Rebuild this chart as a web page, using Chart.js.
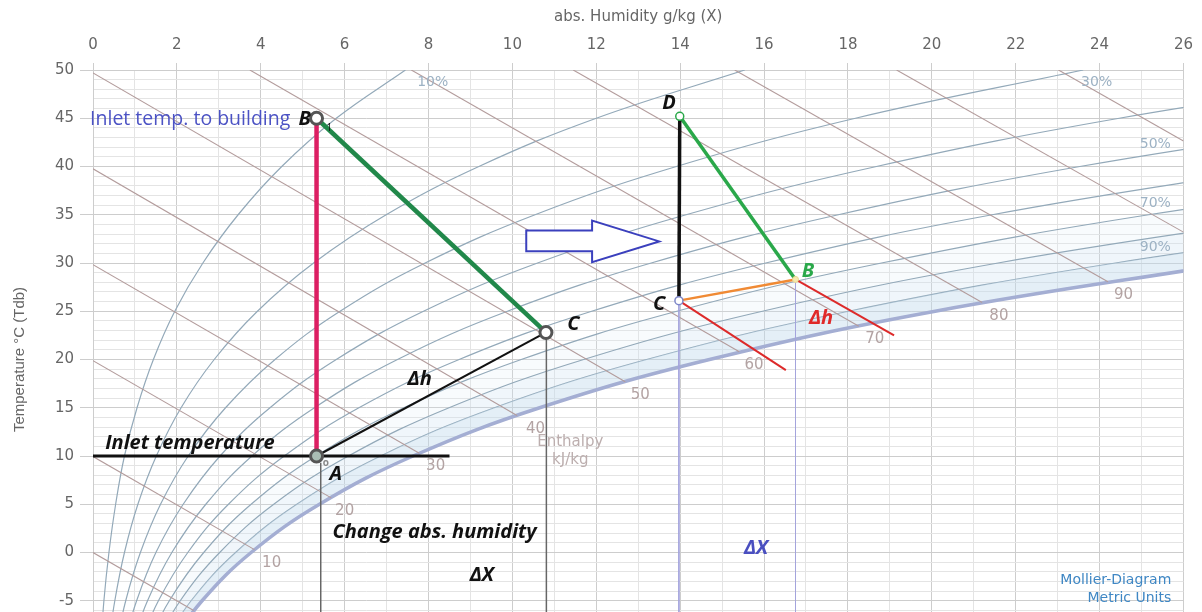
<!DOCTYPE html>
<html>
<head>
<meta charset="utf-8">
<script src="https://cdn.jsdelivr.net/npm/chart.js@4.4.0/dist/chart.umd.min.js"></script>
<style>
  html, body { margin: 0; padding: 0; background: #fff; overflow: hidden; }
  #wrap { width: 1202px; height: 612px; overflow: hidden; }
</style>
</head>
<body>
<div id="wrap"><canvas id="mollier" width="1202" height="664"></canvas></div>
<script>
// Mollier h-x diagram, temperature vs abs. humidity

// dry bulb temperatures (°C) where the humidity curves are read
const curveTemps = [-10, -5, 0, 5, 10, 15, 20, 25, 30, 35, 40, 45, 50];
// abs. humidity (g/kg) along each relative humidity curve
const rh10 = [0.18, 0.26, 0.38, 0.54, 0.75, 1.05, 1.44, 1.95, 2.62, 3.46, 4.50, 5.80, 7.45];
const rh20 = [0.35, 0.52, 0.75, 1.07, 1.51, 2.10, 2.89, 3.92, 5.26, 6.99, 9.20, 12.00, 15.54];
const rh30 = [0.53, 0.78, 1.13, 1.61, 2.27, 3.16, 4.34, 5.89, 7.92, 10.54, 13.91, 18.18, 23.61];
const rh40 = [0.70, 1.04, 1.50, 2.15, 3.03, 4.22, 5.80, 7.88, 10.60, 14.14, 18.68, 24.47, 31.88];
const rh50 = [0.88, 1.30, 1.88, 2.69, 3.79, 5.28, 7.26, 9.88, 13.31, 17.77, 23.53, 30.90];
const rh60 = [1.06, 1.56, 2.26, 3.23, 4.56, 6.34, 8.73, 11.89, 16.04, 21.44, 28.45];
const rh70 = [1.23, 1.82, 2.64, 3.77, 5.32, 7.41, 10.21, 13.92, 18.80, 25.17, 33.44];
const rh80 = [1.41, 2.08, 3.02, 4.31, 6.09, 8.49, 11.70, 15.96, 21.58, 28.93];
const rh90 = [1.59, 2.34, 3.40, 4.86, 6.86, 9.57, 13.20, 18.02, 24.38, 32.73];
const rh100 = [1.76, 2.60, 3.77, 5.40, 7.63, 10.65, 14.70, 20.08, 27.20];

// enthalpy lines (kJ/kg): start point and end point [x g/kg, T °C]
const enthalpyValues = [0, 10, 20, 30, 40, 50, 60, 70, 80, 90, 100, 110];
const enthalpyStart = [[0, 0], [0, 9.94], [0, 19.88], [0, 29.82], [0, 39.76], [0, 49.7],
  [3.74, 50], [7.59, 50], [11.45, 50], [15.3, 50], [19.16, 50], [23.02, 50]];
const enthalpyEnd = [[2.4, -6.0], [3.85, 0.3], [5.68, 5.66], [7.78, 10.28], [10.11, 14.2], [12.69, 17.7],
  [15.41, 20.8], [18.26, 23.45], [21.2, 25.9], [24.2, 28.05], [26, 33.2], [26, 42.65]];

// air states of the two processes
const stateA = { x: 5.33, y: 10 };
const stateB = { x: 5.33, y: 45 };
const stateC = { x: 10.8, y: 22.8 };
const stateD = { x: 13.99, y: 45.2 };
const stateC2 = { x: 13.97, y: 26.1 };
const stateB2 = { x: 16.75, y: 28.3 };

function curve(values) {
  return values.map((v, i) => ({ x: v, y: curveTemps[i] }));
}

// datasets with a higher order are painted first (underneath)
function line(points, color, width, order, extra) {
  return Object.assign({
    data: points,
    showLine: true,
    borderColor: color,
    borderWidth: width,
    pointRadius: 0,
    fill: false,
    order: order
  }, extra || {});
}

const rhCurves = [rh10, rh20, rh30, rh40, rh50, rh60, rh70, rh80, rh90, rh100];
const datasets = rhCurves.map(vals => line(curve(vals), '#93a9b9', 1.2, 30, { tension: 0.4 }));
// saturation curve and the shaded band under it
datasets[9].borderColor = '#a4aed3';
datasets[9].borderWidth = 3.5;
datasets[9].order = 25;
datasets[9].fill = 8;
datasets[9].backgroundColor = 'rgba(196,220,238,0.45)';
datasets[8].fill = 7;
datasets[8].backgroundColor = 'rgba(205,226,241,0.3)';
datasets[7].fill = 6;
datasets[7].backgroundColor = 'rgba(215,232,244,0.18)';

enthalpyValues.forEach((h, i) => {
  datasets.push(line([
    { x: enthalpyStart[i][0], y: enthalpyStart[i][1] },
    { x: enthalpyEnd[i][0], y: enthalpyEnd[i][1] }
  ], '#b39c9c', 1.1, 20));
});

// process lines
datasets.push(line([{ x: 5.43, y: 9.3 }, { x: 5.43, y: -10 }], '#666', 1.5, 10));
datasets.push(line([{ x: 10.81, y: 22.3 }, { x: 10.81, y: -10 }], '#666', 1.5, 10));
datasets.push(line([{ x: stateC2.x, y: stateC2.y }, { x: stateC2.x, y: -10 }], '#a4a4dc', 1, 10));
datasets.push(line([{ x: stateB2.x, y: stateB2.y }, { x: stateB2.x, y: -10 }], '#a4a4dc', 1, 10));
datasets.push(line([{ x: 0, y: 10 }, { x: 8.5, y: 10 }], '#111', 3, 8));
datasets.push(line([stateA, stateC], '#111', 2, 6));
datasets.push(line([stateA, stateB], '#dc1f63', 4.5, 5));
datasets.push(line([stateB, stateC], '#21884a', 4.5, 5));
datasets.push(line([stateC2, stateD], '#111', 3.5, 5));
datasets.push(line([stateD, stateB2], '#2aa84a', 3.5, 5));
datasets.push(line([stateC2, stateB2], '#f08a34', 2.5, 5));
datasets.push(line([stateC2, { x: 16.52, y: 18.9 }], '#dd2a2a', 2, 5));
datasets.push(line([stateB2, { x: 19.1, y: 22.5 }], '#dd2a2a', 2, 5));

// state markers
datasets.push({
  data: [stateA, stateB, stateC, stateD, stateC2, stateB2],
  showLine: false,
  order: 0,
  pointRadius: [6, 6, 6, 4, 4, 3],
  pointBorderWidth: [3, 3, 3, 1.5, 1.5, 1],
  pointBorderColor: ['#555', '#555', '#555', '#2aa84a', '#7d86c8', '#e8d890'],
  pointBackgroundColor: ['#a9bdb4', '#fff', '#fff', '#fff', '#fff', '#f6eab0']
});

// outline of the hollow arrow
const arrowOutline = [[10.33, 33.37], [11.9, 33.37], [11.9, 34.39], [13.5, 32.24],
  [11.9, 30.08], [11.9, 31.21], [10.33, 31.21]];

const wide = '"DejaVu Sans", Verdana, sans-serif';
const hand = '"Open Sans", Lato, sans-serif';
const notes = [
  { t: '10%', x: 8.1, y: 48.67, c: '#9db2c4', f: '14px ' + wide, a: 'center' },
  { t: '30%', x: 23.93, y: 48.67, c: '#9db2c4', f: '14px ' + wide, a: 'center' },
  { t: '50%', x: 25.33, y: 42.3, c: '#9db2c4', f: '14px ' + wide, a: 'center' },
  { t: '70%', x: 25.33, y: 36.14, c: '#9db2c4', f: '14px ' + wide, a: 'center' },
  { t: '90%', x: 25.33, y: 31.6, c: '#9db2c4', f: '14px ' + wide, a: 'center' },
  { t: '10', x: 4.26, y: -1.13, c: '#b3a3a3', f: '15px ' + wide, a: 'center' },
  { t: '20', x: 6.0, y: 4.31, c: '#b3a3a3', f: '15px ' + wide, a: 'center' },
  { t: '30', x: 8.17, y: 8.93, c: '#b3a3a3', f: '15px ' + wide, a: 'center' },
  { t: '40', x: 10.55, y: 12.83, c: '#b3a3a3', f: '15px ' + wide, a: 'center' },
  { t: '50', x: 13.05, y: 16.32, c: '#b3a3a3', f: '15px ' + wide, a: 'center' },
  { t: '60', x: 15.76, y: 19.4, c: '#b3a3a3', f: '15px ' + wide, a: 'center' },
  { t: '70', x: 18.64, y: 22.07, c: '#b3a3a3', f: '15px ' + wide, a: 'center' },
  { t: '80', x: 21.6, y: 24.54, c: '#b3a3a3', f: '15px ' + wide, a: 'center' },
  { t: '90', x: 24.57, y: 26.69, c: '#b3a3a3', f: '15px ' + wide, a: 'center' },
  { t: 'Enthalpy', x: 11.38, y: 11.4, c: '#bcaeae', f: '15px ' + wide, a: 'center' },
  { t: 'kJ/kg', x: 11.38, y: 9.6, c: '#bcaeae', f: '15px ' + wide, a: 'center' },
  { t: 'Mollier-Diagram', x: 25.71, y: -2.87, c: '#3f87c4', f: '14px ' + wide, a: 'right' },
  { t: 'Metric Units', x: 25.71, y: -4.72, c: '#3f87c4', f: '14px ' + wide, a: 'right' },
  { t: 'Inlet temp. to building', x: -0.07, y: 44.87, c: '#4b52c4', f: '19.5px ' + hand, a: 'left' },
  { t: 'B', x: 4.9, y: 44.9, c: '#111', f: 'italic bold 20px ' + hand, a: 'left' },
  { t: '1', x: 5.57, y: 44.0, c: '#111', f: '10px ' + hand, a: 'left' },
  { t: 'o', x: 5.48, y: 9.3, c: '#888', f: 'bold 10px ' + hand, a: 'left' },
  { t: 'A', x: 5.64, y: 8.1, c: '#111', f: 'italic bold 20px ' + hand, a: 'left' },
  { t: 'C', x: 11.31, y: 23.6, c: '#111', f: 'italic bold 20px ' + hand, a: 'left' },
  { t: 'Δh', x: 7.5, y: 18.0, c: '#111', f: 'italic bold 20px ' + hand, a: 'left' },
  { t: 'Inlet temperature', x: 0.29, y: 11.3, c: '#111', f: 'italic bold 20px ' + hand, a: 'left' },
  { t: 'Change abs. humidity', x: 5.71, y: 2.05, c: '#111', f: 'italic bold 20px ' + hand, a: 'left' },
  { t: 'ΔX', x: 8.98, y: -2.36, c: '#111', f: 'italic bold 20px ' + hand, a: 'left' },
  { t: 'D', x: 13.57, y: 46.5, c: '#111', f: 'italic bold 20px ' + hand, a: 'left' },
  { t: 'C', x: 13.35, y: 25.7, c: '#111', f: 'italic bold 20px ' + hand, a: 'left' },
  { t: 'B', x: 16.9, y: 29.1, c: '#2aa84a', f: 'italic bold 20px ' + hand, a: 'left' },
  { t: 'Δh', x: 17.07, y: 24.3, c: '#e02a2a', f: 'italic bold 20px ' + hand, a: 'left' },
  { t: 'ΔX', x: 15.52, y: 0.41, c: '#4a4fc0', f: 'italic bold 20px ' + hand, a: 'left' }
];

const notesPlugin = {
  id: 'notes',
  afterDatasetsDraw(chart) {
    const { ctx } = chart;
    const sx = chart.scales.x, sy = chart.scales.y;
    ctx.save();
    ctx.beginPath();
    arrowOutline.forEach((p, i) => {
      const px = sx.getPixelForValue(p[0]), py = sy.getPixelForValue(p[1]);
      if (i) ctx.lineTo(px, py); else ctx.moveTo(px, py);
    });
    ctx.closePath();
    ctx.fillStyle = '#fff';
    ctx.fill();
    ctx.strokeStyle = '#3b40bd';
    ctx.lineWidth = 2;
    ctx.stroke();

    ctx.textBaseline = 'middle';
    notes.forEach(n => {
      ctx.font = n.f;
      ctx.fillStyle = n.c;
      ctx.textAlign = n.a;
      ctx.fillText(n.t, sx.getPixelForValue(n.x), sy.getPixelForValue(n.y));
    });
    ctx.restore();
  }
};

new Chart(document.getElementById('mollier'), {
  type: 'scatter',
  data: { datasets: datasets },
  options: {
    responsive: false,
    animation: false,
    devicePixelRatio: 1,
    layout: { padding: { left: 0, top: 0, right: 17, bottom: 10 } },
    plugins: { legend: { display: false }, tooltip: { enabled: false } },
    scales: {
      x: {
        type: 'linear',
        position: 'top',
        min: 0,
        max: 26,
        afterFit(scale) { scale.height = 70; },
        ticks: {
          stepSize: 1,
          autoSkip: false,
          maxRotation: 0,
          padding: 9,
          color: '#666',
          font: { family: wide, size: 15 },
          callback: v => (v % 2 === 0 ? v : '')
        },
        grid: {
          tickLength: 7,
          color: c => (c.tick && c.tick.value % 2 === 0 ? '#cdcdcd' : '#e4e4e4'),
          tickColor: c => (c.tick && c.tick.value % 2 === 0 ? '#cdcdcd' : 'rgba(0,0,0,0)')
        },
        border: { color: '#cdcdcd' },
        title: {
          display: true,
          text: 'abs. Humidity g/kg (X)',
          color: '#666',
          font: { family: wide, size: 15 },
          padding: { top: 8, bottom: 0 }
        }
      },
      y: {
        type: 'linear',
        min: -10,
        max: 50,
        afterFit(scale) { scale.width = 93; },
        ticks: {
          stepSize: 1,
          autoSkip: false,
          padding: 6,
          color: '#666',
          font: { family: wide, size: 15 },
          callback: v => (v % 5 === 0 ? v : '')
        },
        grid: {
          tickLength: 13,
          color: c => (c.tick && c.tick.value % 5 === 0 ? '#cdcdcd' : '#e4e4e4'),
          tickColor: c => (c.tick && c.tick.value % 5 === 0 ? '#cdcdcd' : 'rgba(0,0,0,0)')
        },
        border: { color: '#cdcdcd' },
        title: {
          display: true,
          text: 'Temperature °C (Tdb)',
          color: '#666',
          font: { family: '"Liberation Sans", Arial, sans-serif', size: 15 },
          padding: { top: 11, bottom: 0 }
        }
      }
    }
  },
  plugins: [notesPlugin]
});
</script>
</body>
</html>
